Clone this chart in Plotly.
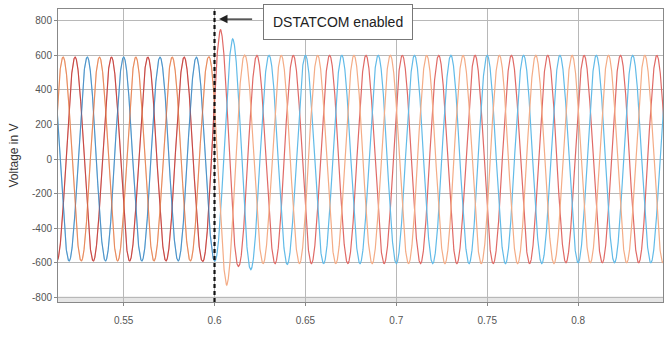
import numpy as np
import plotly.graph_objects as go

# ---- data ----
period = 0.02                      # 50 Hz supply
x_ticks = [0.55, 0.6, 0.65, 0.7, 0.75, 0.8]
y_ticks = [-800, -600, -400, -200, 0, 200, 400, 600, 800]
t_enable = 0.6

phase_names = ["Va", "Vb", "Vc"]
phase_colors = ["#e06a66", "#62bbe8", "#f4ac86"]
first_peak = [0.5033, 0.51, 0.5167]   # time of first positive extreme per phase

# magnitude of each successive half-cycle extreme (peak, trough, peak, ...)
va_ext = [590, 590, 590, 590, 590, 590, 590, 590, 590, 590, 750, 620, 600, 605,
          600, 605, 600, 605, 600, 605, 600, 605, 600, 605, 600, 605, 600, 605,
          600, 600, 600, 600, 600, 600, 600, 600]
vb_ext = [590, 590, 590, 590, 590, 590, 590, 590, 590, 590, 695, 640, 600, 610,
          600, 605, 600, 605, 600, 605, 600, 605, 600, 605, 600, 605, 600, 605,
          600, 600, 600, 600, 600, 600, 600, 600]
vc_ext = [590, 590, 590, 590, 590, 590, 590, 590, 590, 730, 600, 605, 600, 605,
          600, 605, 600, 605, 600, 605, 600, 605, 600, 605, 600, 605, 600, 605,
          600, 600, 600, 600, 600, 600, 600, 600]
extremes = [va_ext, vb_ext, vc_ext]

x_range = [0.5139, 0.8467]
y_range = [-827, 868]

fig = go.Figure()
t = np.linspace(0.505, 0.85, 6000)
for name, col, tp, ext in zip(phase_names, phase_colors, first_peak, extremes):
    ext_t = tp + np.arange(len(ext)) * period / 2
    amp = np.interp(t, ext_t, ext)
    v = amp * np.cos(2 * np.pi / period * (t - tp))
    fig.add_trace(go.Scatter(x=t, y=v, mode="lines", name=name,
                             line=dict(color=col, width=1.2), showlegend=False))

# darker overlay (load voltages) before compensation
dark_colors = ["#a3201c", "#3d5a9c", "#d8602a"]
for col, tp, ext in zip(dark_colors, first_peak, extremes):
    mask = t < t_enable
    ext_t = tp + np.arange(len(ext)) * period / 2
    amp = np.interp(t[mask], ext_t, ext)
    v = amp * np.cos(2 * np.pi / period * (t[mask] - tp))
    fig.add_trace(go.Scatter(x=t[mask], y=v, mode="lines",
                             line=dict(color=col, width=0.8), opacity=0.55,
                             showlegend=False))

# bottom grey band
fig.add_shape(type="rect", xref="x", yref="y", x0=x_range[0], x1=x_range[1],
              y0=y_range[0], y1=-795, fillcolor="#e6e6e6", line=dict(width=0),
              layer="below")

# enable marker
fig.add_shape(type="line", xref="x", yref="paper", x0=t_enable, x1=t_enable,
              y0=0, y1=1, line=dict(color="#111", width=2.2, dash="4px,3px"))

fig.add_annotation(x=0.6681, y=790, xref="x", yref="y", text="DSTATCOM enabled",
                   showarrow=False, font=dict(family="Liberation Sans, Arial", size=14, color="#222"),
                   bordercolor="#777", borderwidth=1, borderpad=9, bgcolor="white")
fig.add_annotation(x=0.6025, y=810, ax=0.6215, ay=810, xref="x", yref="y",
                   axref="x", ayref="y", text="", showarrow=True,
                   arrowhead=2, arrowsize=1.4, arrowwidth=1.2, arrowcolor="#222")

fig.update_layout(
    width=664, height=349,
    margin=dict(l=58, r=1, t=9, b=47),
    paper_bgcolor="white", plot_bgcolor="white",
    font=dict(family="Liberation Sans, Arial", size=10, color="#555"),
)
fig.update_xaxes(range=x_range, tickvals=x_ticks, ticktext=[f"{v:g}" for v in x_ticks],
                 showgrid=True, gridcolor="#b8b8b8", gridwidth=1, zeroline=False,
                 showline=True, linecolor="#888", mirror=True, ticks="outside",
                 ticklen=3, tickcolor="#888", ticklabelstandoff=6)
fig.update_yaxes(range=y_range, tickvals=y_ticks, ticktext=[str(v) for v in y_ticks],
                 showgrid=True, gridcolor="#b8b8b8", gridwidth=1, zeroline=False,
                 showline=True, linecolor="#888", mirror=True, ticks="outside",
                 ticklen=3, tickcolor="#888",
                 title=dict(text="Voltage in V", font=dict(size=12, color="#333"), standoff=10))

fig.write_html("out.html")
